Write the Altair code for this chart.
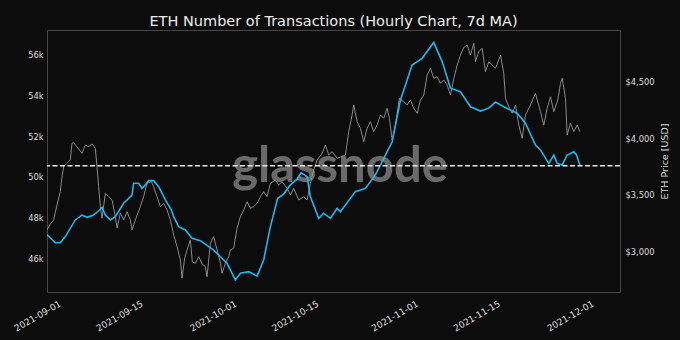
import altair as alt
import pandas as pd

# time origin for the day offsets below (offsets)
BASE = "2021-08-31T13:45:00Z"

# ---- 7d MA of hourly transaction count (thousands) ----
blue_days = [-1.42, 0, 0.85, 1.71, 3.42, 4.56, 5.42, 6.54, 7.40, 7.98, 8.54, 9.40, 10.25,
             11.67, 13.10, 13.37, 14.23, 14.81, 15.37, 15.94, 16.79, 17.65, 18.79, 19.82,
             20.21, 21.06, 22.21, 23.35, 24.77, 27.04, 29.33, 30.75, 31.60, 33.02, 34.46,
             35.58, 36.73, 37.97, 39.00, 40.14, 41.29, 41.97, 43.00, 43.56, 44.98, 45.83,
             46.98, 48.12, 48.68, 49.54, 51.25, 52.95, 54.66, 55.81, 57.52, 58.94, 60.93,
             62.64, 64.62, 66.06, 67.48, 69.18, 70.89, 72.60, 74.02, 75.16, 76.58, 78.87,
             80.29, 81.99, 82.85, 84.27, 85.12, 85.70, 86.56, 87.41, 88.54, 89.00, 89.56]
blue_tx_k = [47.21, 46.81, 46.81, 47.11, 47.93, 48.17, 48.06, 48.17, 48.38, 48.55, 48.17,
             47.93, 48.09, 48.75, 49.15, 49.73, 49.73, 49.48, 49.65, 49.86, 49.86, 49.56,
             48.91, 48.42, 48.09, 47.60, 47.44, 47.03, 46.91, 46.45, 45.80, 44.98, 45.31,
             45.39, 45.17, 45.96, 47.60, 48.99, 49.20, 49.65, 49.93, 50.25, 50.05, 49.07,
             48.01, 48.26, 48.01, 48.50, 48.33, 48.66, 49.32, 49.48, 50.14, 50.79, 51.77,
             53.82, 55.54, 55.87, 56.65, 55.71, 54.40, 54.23, 53.49, 53.28, 53.42, 53.72,
             53.49, 53.17, 52.68, 51.61, 51.37, 50.71, 51.12, 50.71, 50.63, 51.12, 51.28,
             51.12, 50.63]

# ---- ETH price (USD) ----
gray_days = [-1.42, -0.85, -0.29, 0.29, 0.85, 1.14, 1.42, 2.00, 2.56, 2.85, 3.13, 3.71, 4.56,
             5.12, 5.69, 6.27, 6.83, 7.12, 7.40, 7.69, 7.98, 8.54, 9.10, 9.69, 10.25, 10.54,
             11.10, 11.67, 12.25, 12.81, 13.10, 13.67, 14.52, 15.08, 15.66, 16.40, 16.79,
             17.37, 17.94, 18.50, 19.08, 19.64, 20.21, 20.79, 21.35, 21.64, 22.09, 22.67,
             23.06, 23.40, 23.92, 24.48, 25.06, 25.62, 25.91, 26.48, 27.04, 27.62, 28.19,
             28.47, 29.04, 29.60, 29.89, 30.46, 31.04, 31.60, 32.17, 32.75, 33.31, 33.87,
             34.46, 35.02, 35.58, 36.16, 36.73, 37.58, 38.14, 38.73, 39.58, 40.14, 40.71,
             41.56, 42.42, 43.00, 43.56, 44.12, 44.70, 45.56, 46.12, 46.69, 47.27, 48.12,
             48.68, 49.54, 50.10, 50.68, 50.96, 51.54, 52.10, 52.67, 53.25, 53.81, 54.37,
             54.95, 55.52, 56.08, 56.66, 57.05, 57.52, 58.08, 58.76, 59.50, 60.08, 60.64,
             61.21, 61.79, 62.35, 62.92, 63.50, 64.06, 64.62, 65.21, 65.77, 66.33, 66.91,
             67.48, 68.04, 68.62, 69.18, 69.75, 70.33, 70.89, 71.46, 71.75, 72.31, 72.89,
             73.46, 74.02, 74.60, 75.16, 76.02, 76.58, 76.87, 77.44, 78.02, 78.58, 79.14,
             79.72, 80.29, 81.14, 81.99, 82.85, 83.41, 83.99, 84.56, 85.12, 85.80, 86.27,
             86.56, 87.12, 87.41, 87.98, 88.54, 89.12, 89.56]
gray_price = [3200, 3253, 3288, 3420, 3537, 3666, 3757, 3787, 3816, 3963, 3968, 3930, 3875,
              3948, 3933, 3957, 3919, 3757, 3581, 3405, 3303, 3523, 3493, 3464, 3317, 3217,
              3347, 3288, 3361, 3288, 3200, 3288, 3405, 3493, 3611, 3625, 3581, 3493, 3405,
              3435, 3376, 3288, 3156, 3053, 2936, 2777, 2953, 3053, 3112, 2918, 2907, 2965,
              2900, 2877, 2789, 3083, 3141, 3024, 2907, 2819, 2907, 2965, 3024, 3039, 3217,
              3317, 3376, 3449, 3391, 3405, 3435, 3493, 3537, 3493, 3611, 3640, 3596, 3625,
              3567, 3508, 3567, 3464, 3493, 3464, 3611, 3728, 3816, 3875, 3948, 3860, 3889,
              3831, 3842, 3860, 4065, 4212, 4300, 4153, 4095, 3977, 4095, 4153, 4065, 4124,
              4212, 4183, 4271, 4183, 3992, 4124, 4359, 4327, 4300, 4344, 4271, 4227, 4344,
              4388, 4564, 4623, 4535, 4549, 4491, 4520, 4476, 4388, 4529, 4652, 4740, 4806,
              4828, 4740, 4843, 4681, 4769, 4799, 4593, 4681, 4652, 4623, 4740, 4579, 4359,
              4285, 4227, 4300, 4124, 4007, 4212, 4300, 4403, 4241, 4124, 4271, 4373, 4241,
              4344, 4491, 4535, 4359, 4036, 4139, 4065, 4124, 4065]

mean_tx_k = 50.59
left_ticks = [46, 48, 50, 52, 54, 56]
right_ticks = [3000, 3500, 4000, 4500]
x_tick_dates = [(2021, 9, 1), (2021, 9, 15), (2021, 10, 1), (2021, 10, 15),
                (2021, 11, 1), (2021, 11, 15), (2021, 12, 1)]
title_text = "ETH Number of Transactions (Hourly Chart, 7d MA)"
right_title = "ETH Price [USD]"
watermark = "glassnode"

base = pd.Timestamp(BASE)


def to_iso(days):
    t = base + pd.to_timedelta(pd.Series(days), unit="D")
    return t.dt.strftime("%Y-%m-%dT%H:%M:%SZ")


blue_df = pd.DataFrame({"t": to_iso(blue_days), "tx": blue_tx_k})
gray_df = pd.DataFrame({"t": to_iso(gray_days), "price": gray_price})
mark_df = pd.DataFrame({"w": [watermark]})

FONT = "DejaVu Sans"
LABEL = "#dcdcdc"

x_enc = alt.X(
    "t:T",
    scale=alt.Scale(type="utc", domain=[alt.DateTime(year=2021, month=8, date=30, hours=3, minutes=40, utc=True),
                                        alt.DateTime(year=2021, month=12, date=6, utc=True)]),
    axis=alt.Axis(
        values=[alt.DateTime(year=y, month=m, date=d, utc=True) for (y, m, d) in x_tick_dates],
        format="%Y-%m-%d", labelAngle=-30, labelAlign="right", labelBaseline="top",
        labelPadding=7, title=None, labelFontSize=9,
    ),
)

wm = alt.Chart(mark_df).mark_text(
    font="Lato", fontSize=49, fontWeight="bold", color="#6a6a6a", align="center",
    baseline="alphabetic"
).encode(text="w:N", x=alt.value(293), y=alt.value(151.5))

gray = alt.Chart(gray_df).mark_line(color="#969696", strokeWidth=0.9, clip=True).encode(
    x=x_enc,
    y=alt.Y("price:Q",
            scale=alt.Scale(domain=[2654, 4960], nice=False, zero=False),
            axis=alt.Axis(orient="right", values=right_ticks, format="$,.0f",
                          title=right_title, titleFont=FONT, titleFontSize=9.5,
                          titleFontWeight="normal", titleColor=LABEL, titlePadding=5,
                          titleAngle=270, titleBaseline="top",
                          labelPadding=5, labelFontSize=8.3)),
)

blue = alt.Chart(blue_df).mark_line(color="#1eb7f0", strokeWidth=1.6, clip=True).encode(
    x=x_enc,
    y=alt.Y("tx:Q",
            scale=alt.Scale(domain=[44.39, 57.26], nice=False, zero=False),
            axis=alt.Axis(orient="left", values=left_ticks, labelExpr="datum.value + 'k'",
                          title=None, labelPadding=4, labelFontSize=8.3)),
)

rule = alt.Chart(pd.DataFrame({"m": [mean_tx_k]})).mark_rule(
    color="#e6e6e6", strokeDash=[5, 2.5], strokeWidth=1.4
).encode(y="m:Q")

chart = alt.layer(
    alt.layer(wm, gray),
    alt.layer(blue, rule),
).resolve_scale(y="independent").properties(
    width=573, height=262,
    padding={"left": 47, "top": 30, "right": 60, "bottom": 48},
    autosize=alt.AutoSizeParams(type="none"),
    background="#0c0c0c",
    title=alt.TitleParams(title_text, font=FONT, fontSize=14.5, fontWeight="normal",
                          color="#ececec", anchor="middle", frame="group",
                          baseline="alphabetic", offset=-10),
).configure_view(stroke="#464646", strokeWidth=1).configure_axis(
    grid=False, domain=False, ticks=False, labelColor=LABEL, labelFont=FONT,
)

chart.save("out.html", embed_options={"renderer": "svg", "actions": False})
